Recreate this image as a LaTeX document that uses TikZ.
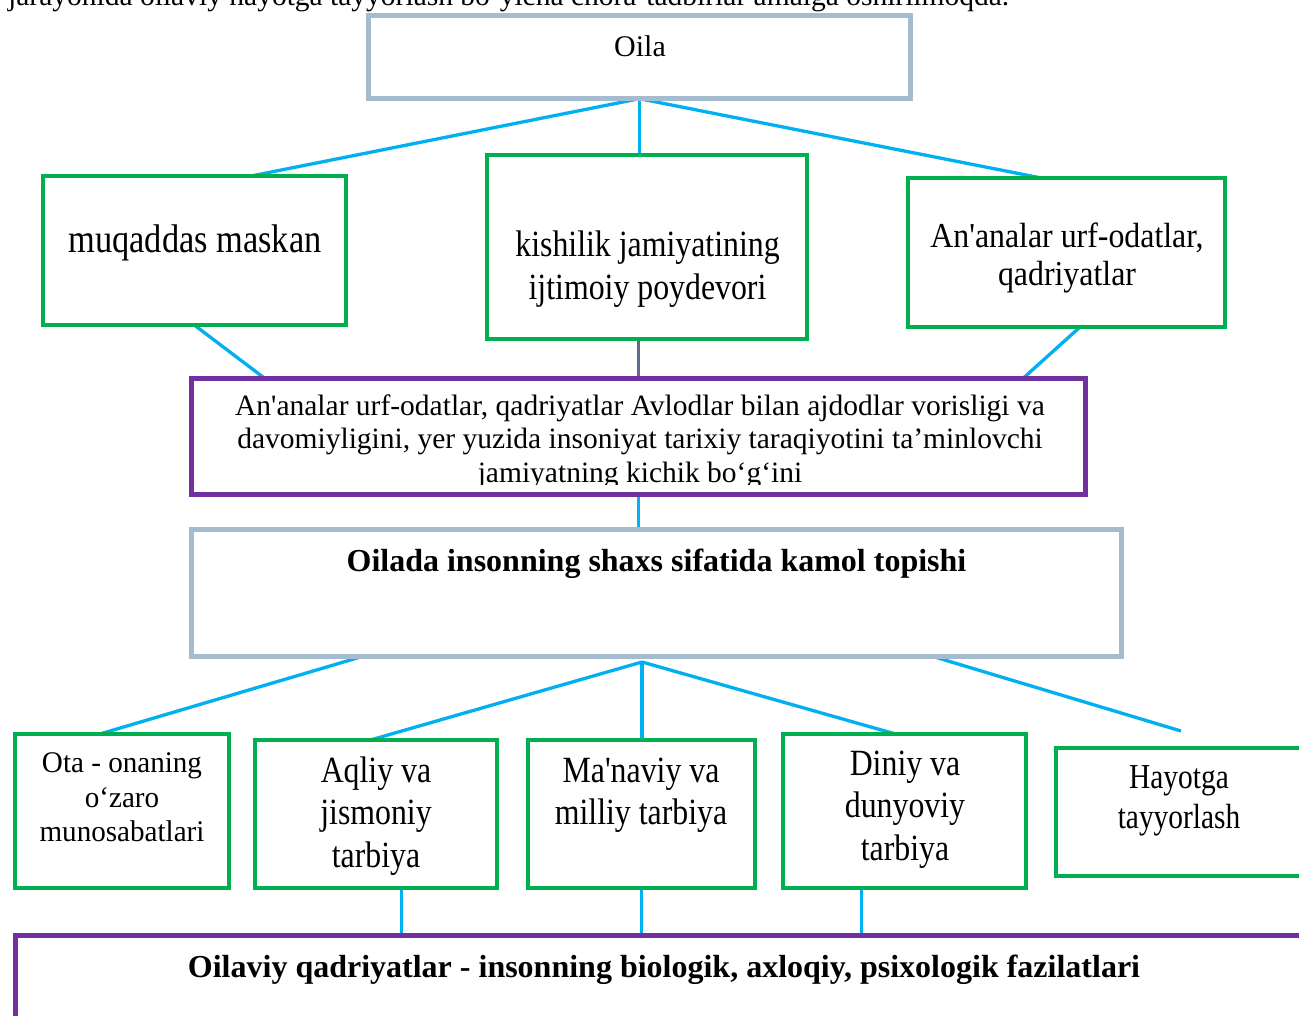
\documentclass[tikz,border=0pt]{standalone}
\usepackage{fontspec}
\setmainfont{Liberation Serif}
\usetikzlibrary{calc}
\definecolor{gr}{RGB}{0,176,80}
\definecolor{sb}{RGB}{165,187,208}
\definecolor{pu}{RGB}{112,48,160}
\definecolor{cy}{RGB}{0,176,240}
\definecolor{sl}{RGB}{95,105,140}
\newcommand\sq{\textquotesingle}
\newcommand\fz[2]{\fontsize{#1}{#2}\selectfont}
\begin{document}
\begin{tikzpicture}[x=1pt,y=-1pt,
  box/.style={rectangle, inner sep=0pt},
  con/.style={draw=cy, line width=3.3pt},
  txt/.style={align=center, inner sep=0pt, text=black}]
\useasboundingbox (0,0) rectangle (1299,1016);
\begin{scope}
\clip (0,0) rectangle (1299,1016);
\fill[white] (0,0) rectangle (1299,1016);
% box shapes (named), borders drawn after the connectors
\node[box, minimum width=542, minimum height=83] (oila) at (639.5,57) {};
\node[box, minimum width=303, minimum height=149] (muq) at (194.5,250.5) {};
\node[box, minimum width=320, minimum height=184] (kish) at (647,247) {};
\node[box, minimum width=317, minimum height=149] (anan) at (1066.5,252.5) {};
\node[box, minimum width=894, minimum height=116] (pur) at (638.5,436.5) {};
\node[box, minimum width=930, minimum height=127] (bold) at (656.5,593) {};
\node[box, minimum width=214, minimum height=154] (ota) at (122,811) {};
\node[box, minimum width=242, minimum height=148] (aq) at (376,814) {};
\node[box, minimum width=227, minimum height=148] (man) at (641.5,814) {};
\node[box, minimum width=243, minimum height=154] (din) at (904.5,811) {};
\node[box, minimum width=262, minimum height=128] (hay) at (1187,812) {};
\node[box, minimum width=1302, minimum height=102] (bot) at (666.5,986.5) {};
% connectors
\draw[con] (oila.south) -- ($(muq.north west)!0.69!(muq.north east)$);
\draw[con] (oila.south) -- (oila.south |- kish.north);
\draw[con] (oila.south) -- ($(anan.north west)!0.417!(anan.north east)$);
\draw[con] (muq.south) -- ($(pur.north west)!0.082!(pur.north east)$);
\draw[con, draw=sl] (pur.north |- kish.south) -- (pur.north);
\draw[con] ($(anan.south west)!0.542!(anan.south east)$) -- ($(pur.north west)!0.93!(pur.north east)$);
\draw[con] (pur.south) -- (pur.south |- bold.north);
\coordinate (J2) at (642,662);
\coordinate (F) at (1181,731);
\draw[con] ($(bold.south west)!0.183!(bold.south east)$) -- ($(ota.north west)!0.4!(ota.north east)$);
\draw[con] (J2) -- ($(aq.north west)!0.48!(aq.north east)$);
\draw[con] (J2) -- (J2 |- man.north);
\draw[con] (J2) -- ($(din.north west)!0.46!(din.north east)$);
\draw[con] ($(bold.south west)!0.798!(bold.south east)$) -- (F);
\coordinate (b1) at ($(aq.south west)!0.606!(aq.south east)$);
\coordinate (b2) at ($(man.south west)!0.5!(man.south east)$);
\coordinate (b3) at ($(din.south west)!0.324!(din.south east)$);
\draw[con] (b1) -- (b1 |- bot.north);
\draw[con] (b2) -- (b2 |- bot.north);
\draw[con] (b3) -- (b3 |- bot.north);
% box borders
\draw[sb, line width=5pt] (oila.south west) rectangle (oila.north east);
\draw[gr, line width=4pt] (muq.south west) rectangle (muq.north east);
\draw[gr, line width=4pt] (kish.south west) rectangle (kish.north east);
\draw[gr, line width=4pt] (anan.south west) rectangle (anan.north east);
\draw[pu, line width=5pt] (pur.south west) rectangle (pur.north east);
\draw[sb, line width=5pt] (bold.south west) rectangle (bold.north east);
\draw[gr, line width=4pt] (ota.south west) rectangle (ota.north east);
\draw[gr, line width=4pt] (aq.south west) rectangle (aq.north east);
\draw[gr, line width=4pt] (man.south west) rectangle (man.north east);
\draw[gr, line width=4pt] (din.south west) rectangle (din.north east);
\draw[gr, line width=4pt] (hay.south west) rectangle (hay.north east);
\draw[pu, line width=5pt] (bot.south west) rectangle (bot.north east);
% texts
\node[inner sep=0pt, anchor=base west, font=\fz{29.5}{34}] (ttop) at (8,6) {jarayonida oilaviy hayotga tayyorlash bo‘yicha chora-tadbirlar amalga oshirilmoqda.};
\node[txt, font=\fz{30}{34}] (toila) at (640,46) {Oila};
\node[txt, font=\fz{40}{46}, xscale=0.86] (tmuq) at (195,243) {muqaddas maskan};
\node[txt, font=\fz{37}{43}, xscale=0.86] (tkish) at (647.5,269) {kishilik jamiyatining\\ijtimoiy poydevori};
\node[txt, font=\fz{35}{38}, xscale=0.91] (tanan) at (1067,258) {An\sq analar urf-odatlar,\\qadriyatlar};
\begin{scope}
\clip (189,376) rectangle (1088,484);
\node[txt, font=\fz{29.5}{33.5}] (tpur) at (640,441.5) {An\sq analar urf-odatlar, qadriyatlar Avlodlar bilan ajdodlar vorisligi va\\davomiyligini, yer yuzida insoniyat tarixiy taraqiyotini ta’minlovchi\\jamiyatning kichik bo‘g‘ini};
\end{scope}
\node[txt, font=\fz{32}{37}\bfseries] (tbold) at (656.5,564) {Oilada insonning shaxs sifatida kamol topishi};
\node[txt, font=\fz{30}{34.5}, xscale=0.97] (tota) at (122,797.5) {Ota - onaning\\o‘zaro\\munosabatlari};
\node[txt, font=\fz{37}{42.5}, xscale=0.86] (taq) at (376,816) {Aqliy va\\jismoniy\\tarbiya};
\node[txt, font=\fz{37}{42.5}, xscale=0.86] (tman) at (641,795) {Ma\sq naviy va\\milliy tarbiya};
\node[txt, font=\fz{37}{42.5}, xscale=0.86] (tdin) at (905,809.5) {Diniy va\\dunyoviy\\tarbiya};
\node[txt, font=\fz{35}{40}, xscale=0.84] (thay) at (1179,801) {Hayotga\\tayyorlash};
\node[txt, font=\fz{32}{37}\bfseries] (tbot) at (664,970) {Oilaviy qadriyatlar - insonning biologik, axloqiy, psixologik fazilatlari};
\end{scope}
\end{tikzpicture}
\end{document}
